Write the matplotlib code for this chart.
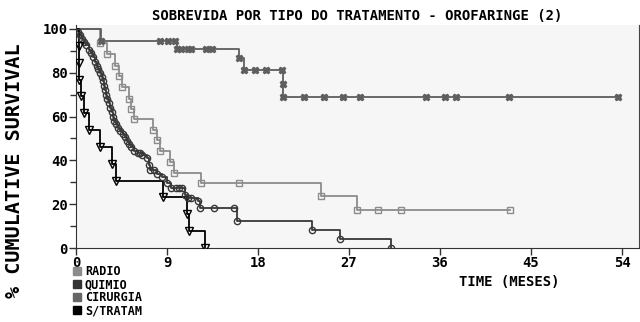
import numpy as np
import matplotlib
matplotlib.use("Agg")
import matplotlib.pyplot as plt
from matplotlib.lines import Line2D

# survival curves (time in months, survival in %)
radio_t = [2.4, 3.1, 3.8, 4.2, 4.5, 5.2, 5.4, 5.7, 7.6, 8.0, 8.3, 9.3, 9.7, 12.4, 24.2, 27.8]
radio_s = [93.6, 88.5, 83.2, 78.4, 73.5, 68.2, 63.6, 58.8, 54.0, 49.5, 44.2, 39.2, 34.3, 29.6, 23.9, 17.4]
radio_cens = [16.1, 29.9, 32.1, 42.9]

quimio_t = [0.2, 0.4, 0.6, 0.8, 1.0, 1.3, 1.5, 1.7, 1.9, 2.05, 2.2, 2.4, 2.55, 2.7, 2.8,
            2.9, 3.0, 3.1, 3.2, 3.35, 3.5, 3.6, 3.75, 3.9, 4.1, 4.3, 4.6, 4.8, 5.0, 5.2,
            5.4, 5.7, 6.1, 6.5, 7.0, 7.2, 7.3, 8.0, 8.5, 9.0, 9.4, 10.8, 11.1, 12.1,
            12.3, 15.9, 23.3, 26.1, 31.1]
quimio_s = [98.5, 97.0, 95.5, 94.0, 92.5, 90.5, 89.0, 87.0, 85.0, 83.0, 81.5, 80.0, 78.0,
            76.0, 74.0, 72.0, 70.0, 68.0, 66.0, 64.0, 62.0, 60.0, 58.0, 56.5, 55.0, 53.5,
            52.0, 50.5, 49.0, 47.5, 46.0, 44.5, 43.5, 42.5, 41.0, 38.0, 35.5, 34.0, 32.5,
            29.7, 27.4, 24.3, 23.0, 21.3, 18.2, 12.1, 8.3, 4.1, 0.0]
quimio_cens = [6.3, 7.7, 9.9, 10.2, 10.5, 11.4, 13.6, 15.6]

cirurgia_t = [2.5, 10.0, 16.1, 16.6, 20.5, 20.5]
cirurgia_s = [94.6, 90.8, 86.5, 81.3, 74.8, 68.7]
cirurgia_cens = [8.25, 9.1, 9.75, 10.4, 11.1, 11.4, 12.8, 13.4, 17.7, 18.8, 20.4,
                 22.5, 24.5, 26.4, 28.05, 34.65, 36.5, 37.6, 42.8, 53.6]

stratam_t = [0.3, 0.3, 0.3, 0.5, 0.8, 1.3, 2.4, 3.5, 3.9, 8.6, 11.0, 11.2, 12.7]
stratam_s = [92.3, 84.6, 76.9, 69.2, 61.5, 53.8, 46.2, 38.5, 30.8, 23.1, 15.4, 7.7, 0.0]
stratam_cens = []

labels = ["RADIO", "QUIMIO", "CIRURGIA", "S/TRATAM"]
legend_colors = ["#8c8c8c", "#333333", "#666666", "#000000"]

mono = "DejaVu Sans Mono"

fig = plt.figure(figsize=(6.4, 3.22), dpi=100)
ax = fig.add_axes([0.119, 0.2298, 0.8797, 0.694])
ax.set_facecolor("#f6f6f6")


def draw_curve(ev_t, ev_s, cens, color, marker, mfc, ms):
    ev_t = np.asarray(ev_t, float)
    ev_s = np.asarray(ev_s, float)
    end = max([ev_t[-1]] + list(cens))
    xs = np.concatenate([[0], ev_t, [end]])
    ys = np.concatenate([[100], ev_s, [ev_s[-1]]])
    ax.step(xs, ys, where="post", color=color, lw=1.3, zorder=2)
    # survival at censored times
    c = np.asarray(cens, float)
    if len(c):
        idx = np.searchsorted(ev_t, c, side="right")
        cs = np.where(idx == 0, 100, ev_s[np.maximum(idx - 1, 0)])
    else:
        cs = np.array([])
    mx = np.concatenate([ev_t, c])
    my = np.concatenate([ev_s, cs])
    ax.plot(mx, my, ls="none", marker=marker, mfc=mfc, mec=color, ms=ms,
            mew=1.0, zorder=3)


draw_curve(radio_t, radio_s, radio_cens, "#8c8c8c", "s", "none", 4.5)
draw_curve(cirurgia_t, cirurgia_s, cirurgia_cens, "#5e5e5e", "X", "#5e5e5e", 4.5)
draw_curve(quimio_t, quimio_s, quimio_cens, "#383838", "o", "none", 4.5)
draw_curve(stratam_t, stratam_s, stratam_cens, "#000000", "v", "none", 5.5)

ax.set_xlim(0, 55.7)
ax.set_ylim(0, 102)
ax.set_xticks([0, 9, 18, 27, 36, 45, 54])
ax.set_yticks([0, 20, 40, 60, 80, 100])
ax.set_yticks([10, 30, 50, 70, 90], minor=True)
ax.tick_params(axis="both", which="major", length=5, width=1, color="#333333",
               labelsize=10, pad=1)
ax.tick_params(axis="y", which="minor", length=4, width=1, color="#333333")
for lab in ax.get_xticklabels() + ax.get_yticklabels():
    lab.set_fontfamily(mono)
    lab.set_fontweight("bold")

ax.spines["top"].set_visible(False)
ax.spines["right"].set_color("#444444")
ax.spines["left"].set_color("#333333")
ax.spines["bottom"].set_color("#333333")

ax.set_title("SOBREVIDA POR TIPO DO TRATAMENTO - OROFARINGE (2)", fontfamily=mono,
             fontweight="bold", fontsize=10, pad=3)
fig.text(0.022, 0.47, "% CUMULATIVE SURVIVAL", rotation=90, va="center", ha="center",
         fontfamily=mono, fontweight="bold", fontsize=14.5)
fig.text(0.795, 0.125, "TIME (MESES)", ha="center", va="center",
         fontfamily=mono, fontweight="bold", fontsize=10)

handles = [Line2D([], [], ls="none", marker="s", ms=6, mfc=c, mec=c) for c in legend_colors]
leg = fig.legend(handles, labels, loc="upper left", bbox_to_anchor=(0.105, 0.195),
                 frameon=False, handlelength=0.6, handletextpad=0.4,
                 labelspacing=0.0, borderpad=0, prop={"family": mono,
                                                       "weight": "bold", "size": 8.5})

fig.savefig("out.png", dpi=100)
